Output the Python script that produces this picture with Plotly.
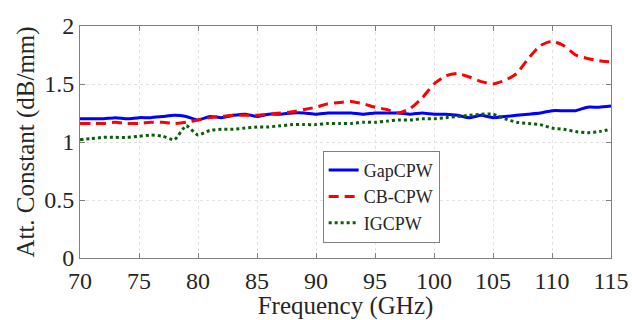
import plotly.graph_objects as go

freq = list(range(70, 116))

gapcpw = [1.20, 1.20, 1.20, 1.21, 1.20, 1.21, 1.21, 1.22, 1.23, 1.22,
          1.19, 1.22, 1.21, 1.23, 1.24, 1.22, 1.24, 1.24, 1.25, 1.25,
          1.24, 1.25, 1.25, 1.25, 1.24, 1.25, 1.25, 1.25, 1.24, 1.25,
          1.24, 1.24, 1.23, 1.21, 1.23, 1.21, 1.22, 1.23, 1.24, 1.25,
          1.27, 1.27, 1.27, 1.30, 1.30, 1.31]

cbcpw = [1.16, 1.16, 1.16, 1.17, 1.16, 1.16, 1.17, 1.17, 1.16, 1.17,
         1.19, 1.21, 1.22, 1.23, 1.23, 1.23, 1.24, 1.25, 1.26, 1.28,
         1.30, 1.33, 1.34, 1.35, 1.33, 1.30, 1.28, 1.25, 1.29, 1.38,
         1.50, 1.57, 1.59, 1.56, 1.52, 1.50, 1.53, 1.59, 1.72, 1.83,
         1.87, 1.83, 1.75, 1.72, 1.70, 1.69]

igcpw = [1.02, 1.03, 1.04, 1.04, 1.04, 1.05, 1.06, 1.05, 1.02, 1.14,
         1.06, 1.10, 1.11, 1.11, 1.12, 1.13, 1.13, 1.14, 1.15, 1.15,
         1.15, 1.16, 1.16, 1.16, 1.17, 1.17, 1.18, 1.19, 1.19, 1.20,
         1.20, 1.21, 1.22, 1.23, 1.24, 1.24, 1.20, 1.17, 1.16, 1.15,
         1.12, 1.11, 1.09, 1.08, 1.09, 1.11]

x_ticks = [70, 75, 80, 85, 90, 95, 100, 105, 110, 115]
y_ticks = [0, 0.5, 1, 1.5, 2]
y_tick_labels = ["0", "0.5", "1", "1.5", "2"]

FONT = "Liberation Serif"
TXT = "#262626"

fig = go.Figure()
fig.add_trace(go.Scatter(x=freq, y=gapcpw, mode="lines", name="GapCPW",
                         line=dict(color="#0000FF", width=3, shape="spline", smoothing=0.5)))
fig.add_trace(go.Scatter(x=freq, y=cbcpw, mode="lines", name="CB-CPW",
                         line=dict(color="#FF0000", width=3, dash="10px,6px", shape="spline", smoothing=0.5)))
fig.add_trace(go.Scatter(x=freq, y=igcpw, mode="lines", name="IGCPW",
                         line=dict(color="#0B5E0B", width=3, dash="3px,3px", shape="spline", smoothing=0.5)))

axis_common = dict(
    showline=True, linecolor="#808080", linewidth=1, mirror="ticks",
    ticks="inside", ticklen=5, tickcolor="#808080",
    showgrid=True, gridcolor="#E3E3E3", griddash="dot", gridwidth=1,
    zeroline=False,
    tickfont=dict(family=FONT, size=24, color=TXT),
)

fig.update_layout(
    width=632, height=320,
    margin=dict(l=80, r=21, t=26, b=62),
    paper_bgcolor="white", plot_bgcolor="white",
    font=dict(family=FONT, color=TXT),
    xaxis=dict(range=[70, 115], tickvals=x_ticks, ticklabelstandoff=1,
               title=dict(text="Frequency (GHz)", font=dict(family=FONT, size=25, color=TXT), standoff=2),
               automargin=False, **axis_common),
    yaxis=dict(range=[0, 2], tickvals=y_ticks, ticktext=y_tick_labels,
               title=dict(text="Att. Constant (dB/mm)", font=dict(family=FONT, size=25, color=TXT), standoff=2),
               automargin=False, **axis_common),
    legend=dict(x=0.457, y=0.462, xanchor="left", yanchor="top",
                bgcolor="white", bordercolor="#808080", borderwidth=1,
                font=dict(family=FONT, size=18, color=TXT),
                tracegroupgap=0, itemwidth=30),
    showlegend=True,
)

fig.write_html("out.html")
